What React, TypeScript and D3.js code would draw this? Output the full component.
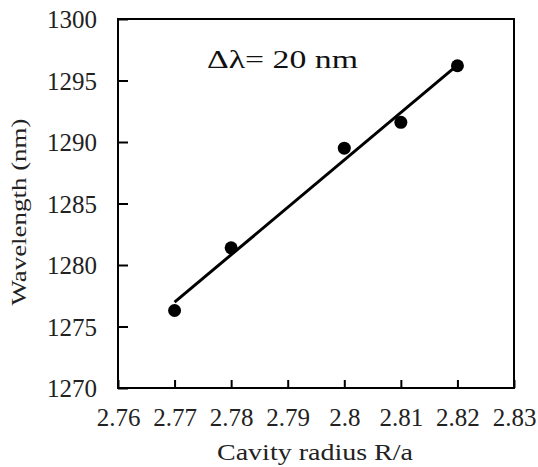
import * as d3 from 'd3';
import React, { useRef, useEffect } from 'react';

const width = 538;
const height = 467;
const margin = { top: 19, right: 24, bottom: 79, left: 118 };

const radius = [2.77, 2.78, 2.8, 2.81, 2.82];
const wavelength = [1276.3, 1281.4, 1289.5, 1291.6, 1296.2];
const xTicks = [2.76, 2.77, 2.78, 2.79, 2.8, 2.81, 2.82, 2.83];
const yTicks = [1270, 1275, 1280, 1285, 1290, 1295, 1300];

const font = 'Liberation Serif, Times New Roman, Times, serif';

function App() {
  const ref = useRef<SVGSVGElement>(null);

  useEffect(() => {
    const root = d3.select(ref.current);
    root.selectAll('*').remove();
    const w = width - margin.left - margin.right;
    const h = height - margin.top - margin.bottom;

    const svg = root.append('g')
      .attr('font-family', font)
      .attr('transform', 'translate(' + margin.left + ',' + margin.top + ')');

    const x = d3.scaleLinear().domain([2.76, 2.83]).range([0, w]);
    const y = d3.scaleLinear().domain([1270, 1300]).range([h, 0]);

    // frame
    svg.append('rect')
      .attr('width', w)
      .attr('height', h)
      .attr('fill', 'none')
      .attr('stroke', '#000')
      .attr('stroke-width', 2);

    const xAxis = svg.append('g')
      .attr('transform', 'translate(0,' + h + ')')
      .call(d3.axisBottom(x).tickValues(xTicks).tickSize(-8).tickPadding(20)
        .tickFormat(d => String(+d)));
    const yAxis = svg.append('g')
      .call(d3.axisLeft(y).tickValues(yTicks).tickSize(-10).tickPadding(21)
        .tickFormat(d3.format('d')));

    [xAxis, yAxis].forEach(g => {
      g.attr('font-family', font).attr('font-size', 25);
      g.select('.domain').remove();
      g.selectAll('line').attr('stroke', '#000').attr('stroke-width', 2);
      g.selectAll('text').attr('fill', '#222');
    });
    yAxis.selectAll('text').attr('dy', '0.34em');

    // linear fit
    const mx = d3.mean(radius)!;
    const my = d3.mean(wavelength)!;
    const sxy = d3.sum(radius, (r, i) => (r - mx) * (wavelength[i] - my));
    const sxx = d3.sum(radius, r => (r - mx) * (r - mx));
    const slope = sxy / sxx;
    const fit = (r: number) => my + slope * (r - mx);
    const x0 = d3.min(radius)!;
    const x1 = d3.max(radius)!;

    svg.append('line')
      .attr('x1', x(x0))
      .attr('y1', y(fit(x0)))
      .attr('x2', x(x1))
      .attr('y2', y(fit(x1)))
      .attr('stroke', '#000')
      .attr('stroke-width', 3);

    svg.selectAll('circle')
      .data(radius)
      .enter()
      .append('circle')
      .attr('cx', d => x(d))
      .attr('cy', (d, i) => y(wavelength[i]))
      .attr('r', 6.5)
      .attr('fill', '#000');

    svg.append('text')
      .attr('x', 89)
      .attr('y', 49)
      .attr('textLength', 151)
      .attr('lengthAdjust', 'spacingAndGlyphs')
      .attr('font-size', 25)
      .attr('fill', '#111')
      .text('Δλ= 20 nm');

    svg.append('text')
      .attr('x', w / 2 - 1)
      .attr('y', h + 72)
      .attr('text-anchor', 'middle')
      .attr('textLength', 196)
      .attr('lengthAdjust', 'spacingAndGlyphs')
      .attr('font-size', 24)
      .attr('fill', '#222')
      .text('Cavity radius R/a');

    svg.append('text')
      .attr('transform', 'translate(' + (-92) + ',' + (212 - margin.top) + ') rotate(-90)')
      .attr('text-anchor', 'middle')
      .attr('textLength', 187)
      .attr('lengthAdjust', 'spacingAndGlyphs')
      .attr('font-size', 21)
      .attr('fill', '#222')
      .text('Wavelength (nm)');
  }, []);

  return (
    <div className="chart">
      <svg ref={ref} width={width} height={height}
        style={{ position: 'absolute', left: 0, top: 0, background: '#fff' }} />
    </div>
  );
}

export default App;
